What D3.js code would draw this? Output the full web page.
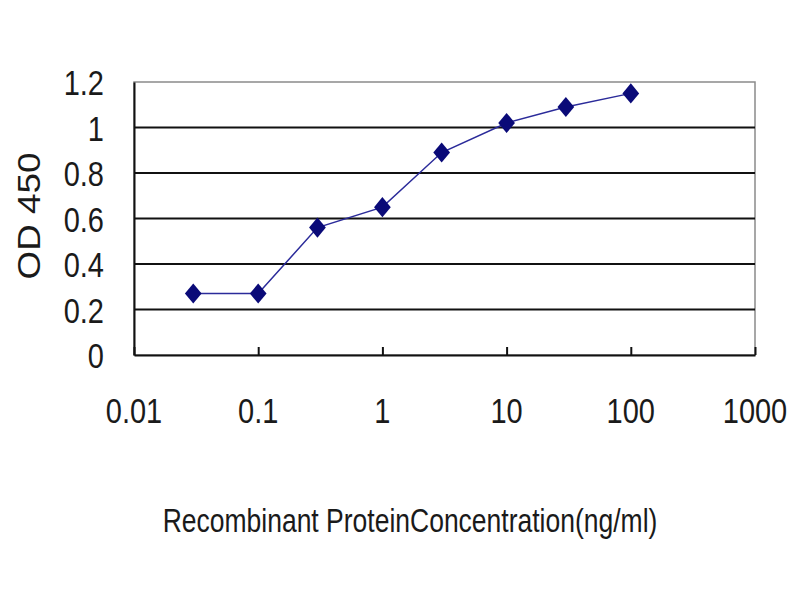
<!DOCTYPE html>
<html>
<head>
<meta charset="utf-8">
<script src="https://cdn.jsdelivr.net/npm/d3@7"></script>
<style>
  body { margin: 0; background: #fff; }
  text { font-family: "Liberation Sans", Arial, sans-serif; fill: #1a1a1a; }
</style>
</head>
<body>
<svg id="chart" width="800" height="600"></svg>
<script>
// concentration (ng/ml) and OD 450 readings
var concentrations = [0.03, 0.1, 0.3, 1, 3, 10, 30, 100];
var od450 = [0.27, 0.27, 0.56, 0.65, 0.89, 1.02, 1.09, 1.15];
var xTicks = [0.01, 0.1, 1, 10, 100, 1000];
var xTickLabels = ['0.01', '0.1', '1', '10', '100', '1000'];
var yTicks = [0, 0.2, 0.4, 0.6, 0.8, 1, 1.2];
var yTickLabels = ['0', '0.2', '0.4', '0.6', '0.8', '1', '1.2'];

var svg = d3.select('#chart');
var plotLeft = 134, plotRight = 755, plotTop = 82, plotBottom = 355;

var x = d3.scaleLog().domain([0.01, 1000]).range([plotLeft, plotRight]);
var y = d3.scaleLinear().domain([0, 1.2]).range([plotBottom, plotTop]);

// frame (top/right in grey)
svg.append('rect')
  .attr('x', plotLeft).attr('y', plotTop)
  .attr('width', plotRight - plotLeft).attr('height', plotBottom - plotTop)
  .attr('fill', '#fff').attr('stroke', '#8a8a8a').attr('stroke-width', 1.5);

// gridlines
svg.append('g').selectAll('line')
  .data(yTicks.filter(function(d) { return d > 0 && d < 1.2; }))
  .enter().append('line')
  .attr('x1', plotLeft).attr('x2', plotRight)
  .attr('y1', function(d) { return y(d); })
  .attr('y2', function(d) { return y(d); })
  .attr('stroke', '#111').attr('stroke-width', 2);

// x axis, ticks pointing up into the plot
var xAxis = svg.append('g')
  .attr('transform', 'translate(0,' + plotBottom + ')')
  .call(d3.axisBottom(x).tickValues(xTicks).tickSize(-8).tickSizeOuter(0).tickFormat(''));
xAxis.select('.domain').attr('stroke', '#111').attr('stroke-width', 2);
xAxis.selectAll('.tick line').attr('stroke', '#111').attr('stroke-width', 2);

// y axis line
var yAxis = svg.append('g')
  .attr('transform', 'translate(' + plotLeft + ',0)')
  .call(d3.axisLeft(y).tickValues(yTicks).tickSize(0).tickFormat(''));
yAxis.select('.domain').attr('stroke', '#111').attr('stroke-width', 2);

// tick labels
svg.append('g').selectAll('text')
  .data(xTicks)
  .enter().append('text')
  .attr('transform', function(d) { return 'translate(' + x(d) + ',423) scale(1,1.2)'; })
  .attr('text-anchor', 'middle')
  .style('font-size', '29px')
  .text(function(d, i) { return xTickLabels[i]; });

svg.append('g').selectAll('text')
  .data(yTicks)
  .enter().append('text')
  .attr('transform', function(d) { return 'translate(104,' + (y(d) + 13) + ') scale(1,1.2)'; })
  .attr('text-anchor', 'end')
  .style('font-size', '29px')
  .text(function(d, i) { return yTickLabels[i]; });

// series line and markers
var line = d3.line()
  .x(function(d, i) { return x(concentrations[i]); })
  .y(function(d) { return y(d); });

svg.append('path')
  .datum(od450)
  .attr('d', line)
  .attr('fill', 'none')
  .attr('stroke', '#2b2b9a')
  .attr('stroke-width', 1.5);

svg.append('g').selectAll('path')
  .data(od450)
  .enter().append('path')
  .attr('d', d3.symbol().type(d3.symbolSquare).size(140))
  .attr('transform', function(d, i) {
    return 'translate(' + x(concentrations[i]) + ',' + y(d) + ') scale(1,1.2) rotate(45)';
  })
  .attr('fill', '#0a0a78');

// axis titles
svg.append('text')
  .attr('transform', 'translate(410,532) scale(1,1.25)')
  .attr('text-anchor', 'middle')
  .style('font-size', '26.5px')
  .text('Recombinant ProteinConcentration(ng/ml)');

svg.append('text')
  .attr('transform', 'translate(40,216) rotate(-90) scale(1.15,1)')
  .attr('text-anchor', 'middle')
  .style('font-size', '32px')
  .text('OD 450');
</script>
</body>
</html>
